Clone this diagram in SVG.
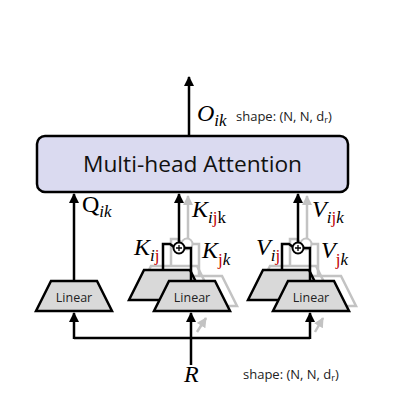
<svg xmlns="http://www.w3.org/2000/svg" width="410" height="410" viewBox="0 0 410 410">
<defs>
<style>
.ln{stroke:#000;stroke-width:2.5;fill:none}
.gl{stroke:#c3c3c3;stroke-width:2.5;fill:none}
.trap{fill:#d9d9d9;stroke:#000;stroke-width:2.5;stroke-linejoin:miter}
.gtrap{fill:none;stroke:#c3c3c3;stroke-width:2.5}
.lin{font-family:"Open Sans","Liberation Sans",sans-serif;font-size:12.5px;fill:#222;text-anchor:middle}
.m{font-family:"Liberation Serif","DejaVu Serif",serif;font-size:24px;font-style:italic;fill:#000}
.up{font-style:normal}
.s{font-size:17px}
.r{fill:#c00000;font-style:normal}
.shp{font-family:"Open Sans","Liberation Sans",sans-serif;font-size:13px;fill:#222}
.add{fill:#fff;stroke:#000;stroke-width:2}
.gadd{fill:none;stroke:#c3c3c3;stroke-width:2}
</style>
<marker id="ah" viewBox="0 0 10 10" refX="9" refY="5" markerWidth="4.2" markerHeight="4" orient="auto" markerUnits="strokeWidth">
<path d="M0,0 L10,5 L0,10 Z" fill="#000"/>
</marker>
<marker id="gah" viewBox="0 0 10 10" refX="9" refY="5" markerWidth="4.2" markerHeight="4" orient="auto" markerUnits="strokeWidth">
<path d="M0,0 L10,5 L0,10 Z" fill="#c3c3c3"/>
</marker>
<path id="tz" d="M-23,0 H23 L38,30 H-38 Z"/>
</defs>

<!-- gray depth copies -->
<g id="gray_k">
<line class="gl" x1="188" y1="239" x2="188" y2="196" marker-end="url(#gah)"/>
<use href="#tz" class="gtrap" x="174" y="266"/>
<use href="#tz" class="gtrap" x="199" y="276"/>
<path class="gl" d="M171,266 V239 H177 L181,242 M193,244 H199 V276"/>
<circle class="gadd" cx="187" cy="244" r="5.5"/>
<line class="gl" x1="197" y1="332" x2="206" y2="318" marker-end="url(#gah)"/>
</g>
<g id="gray_v">
<line class="gl" x1="307" y1="239" x2="307" y2="196" marker-end="url(#gah)"/>
<use href="#tz" class="gtrap" x="293" y="266"/>
<use href="#tz" class="gtrap" x="318" y="276"/>
<path class="gl" d="M290,266 V239 H296 L300,242 M312,244 H318 V276"/>
<circle class="gadd" cx="306" cy="244" r="5.5"/>
<line class="gl" x1="315" y1="332" x2="323" y2="318" marker-end="url(#gah)"/>
</g>

<g id="connectors">
<line class="ln" x1="189" y1="136" x2="189" y2="77" marker-end="url(#ah)"/>
<line class="ln" x1="74" y1="280" x2="74" y2="194" marker-end="url(#ah)"/>
<line class="ln" x1="179" y1="242" x2="179" y2="194" marker-end="url(#ah)"/>
<line class="ln" x1="298" y1="242" x2="298" y2="194" marker-end="url(#ah)"/>
<line class="ln" x1="191" y1="365" x2="191" y2="313" marker-end="url(#ah)"/>
<path class="ln" d="M74,338 H310"/>
<line class="ln" x1="74" y1="339" x2="74" y2="313" marker-end="url(#ah)"/>
<line class="ln" x1="310" y1="339" x2="310" y2="313" marker-end="url(#ah)"/>
</g>

<g id="attention">
<rect x="37" y="136" width="311" height="56" rx="8" fill="#dadaf0" stroke="#000" stroke-width="2.5"/>
<text x="83" y="172" font-family="'Open Sans','Liberation Sans',sans-serif" font-size="21" textLength="219" lengthAdjust="spacingAndGlyphs" fill="#111">Multi-head Attention</text>
</g>

<g id="linear_q">
<use href="#tz" class="trap" x="74" y="281"/>
<text class="lin" x="74" y="302">Linear</text>
</g>

<g id="linear_k_back">
<use href="#tz" class="trap" x="167" y="270"/>
</g>
<g id="lead_k">
<path class="ln" d="M163,271 V244 H170 L174,247 M185,248 H191 V281"/>
</g>
<g id="linear_k_front">
<use href="#tz" class="trap" x="192" y="281"/>
<text class="lin" x="192" y="302">Linear</text>
</g>
<g id="add_k">
<circle class="add" cx="179" cy="248" r="5.5"/>
<path d="M176,248 H182 M179,245 V251" stroke="#000" stroke-width="1.3"/>
</g>

<g id="linear_v_back">
<use href="#tz" class="trap" x="286" y="270"/>
</g>
<g id="lead_v">
<path class="ln" d="M282,271 V244 H289 L293,247 M304,248 H310 V281"/>
</g>
<g id="linear_v_front">
<use href="#tz" class="trap" x="311" y="281"/>
<text class="lin" x="311" y="302">Linear</text>
</g>
<g id="add_v">
<circle class="add" cx="298" cy="248" r="5.5"/>
<path d="M295,248 H301 M298,245 V251" stroke="#000" stroke-width="1.3"/>
</g>

<g id="labels">
<text class="m" x="197" y="121">O<tspan class="s" y="126">ik</tspan></text>
<text class="shp" x="236" y="121">shape: (N, N, d<tspan font-size="9" y="123">r</tspan><tspan y="121">)</tspan></text>
<text class="m" x="82" y="212"><tspan class="up">Q</tspan><tspan class="s" y="217">ik</tspan></text>
<text class="m" x="192" y="217">K<tspan class="s" y="223">i</tspan><tspan class="s r">j</tspan><tspan class="s up">k</tspan></text>
<text class="m" x="134" y="255">K<tspan class="s" y="261">i</tspan><tspan class="s r">j</tspan></text>
<text class="m" x="202" y="258">K<tspan class="s r" y="265">j</tspan><tspan class="s">k</tspan></text>
<text class="m" x="312" y="217">V<tspan class="s" y="223">i</tspan><tspan class="s r">j</tspan><tspan class="s">k</tspan></text>
<text class="m" x="256" y="255">V<tspan class="s" y="261">i</tspan><tspan class="s r">j</tspan></text>
<text class="m" x="321" y="258">V<tspan class="s r" y="265">j</tspan><tspan class="s">k</tspan></text>
<text class="m" x="184" y="382">R</text>
<text class="shp" x="243" y="379">shape: (N, N, d<tspan font-size="9" y="381">r</tspan><tspan y="379">)</tspan></text>
</g>
</svg>
